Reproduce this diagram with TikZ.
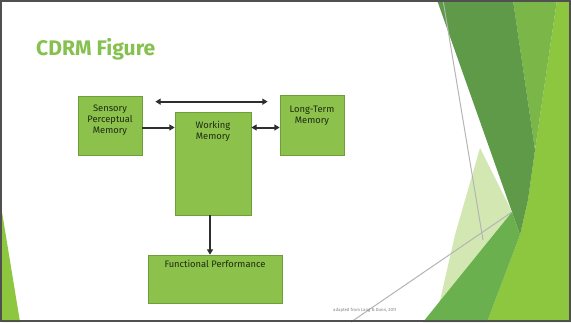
\documentclass[tikz,border=0pt]{standalone}
\usepackage{fontspec}
\setmainfont{Fira Sans}
\usetikzlibrary{arrows.meta,calc,positioning}
\definecolor{boxgreen}{HTML}{8CC24B}
\definecolor{boxedge}{HTML}{6E9E3A}
\definecolor{boxink}{HTML}{1E2A12}
\definecolor{titlegreen}{HTML}{86C04E}
\definecolor{arrowink}{HTML}{2E2E2E}
\definecolor{framegray}{HTML}{505050}
\definecolor{limegreen}{HTML}{8DC63F}
\definecolor{midgreen}{HTML}{7AB648}
\definecolor{deepgreen}{HTML}{5E9A48}
\definecolor{lowgreen}{HTML}{6AB04E}
\definecolor{palegreen}{HTML}{D3E7B2}
\definecolor{rulegray}{HTML}{B4B4B4}

\begin{document}
\begin{tikzpicture}[x=0.03cm,y=-0.03cm,
	headtip/.tip={Triangle[length=0.16cm,width=0.18cm]},
	memorybox/.style={draw=boxedge,fill=boxgreen,line width=0.02cm,inner sep=0pt},
	boxtext/.style={font=\fontsize{8}{9.5}\selectfont,text=boxink,align=center,inner sep=0pt},
	link/.style={draw=arrowink,line width=0.06cm,-headtip},
	twoway/.style={link,headtip-headtip}]
\useasboundingbox (0,0) rectangle (571,322);
\begin{scope}
\clip (0,0) rectangle (571,322);
% Drawing background
\fill[white] (0,0) rectangle (571,322);

% Drawing ornaments on the right
\fill[limegreen] (557,0) -- (571,0) -- (571,322) -- (487,322) -- (520,235) -- (528,200) -- (535,150) -- cycle;
\fill[midgreen] (513,0) -- (557,0) -- (535,150) -- cycle;
\fill[deepgreen] (437,0) -- (513,0) -- (535,150) -- (528,200) -- (520,235) -- (512,212) -- cycle;
\fill[palegreen] (480,148) -- (512,212) -- (436,318) -- (455,235) -- cycle;
\fill[lowgreen] (423,322) -- (512,212) -- (520,235) -- (487,322) -- cycle;
\draw[rulegray,line width=0.03cm] (443,0) -- (483,240);
\draw[rulegray,line width=0.03cm] (351,322) -- (512,212);

% Drawing ornament on the left
\fill[limegreen] (2,212) -- (2,322) -- (20,322) -- cycle;
\end{scope}

% Drawing frame
\draw[framegray,line width=0.06cm] (1,1) rectangle (570,321);

% Marking title
\node[anchor=base west,inner sep=0pt,font=\fontsize{18}{21}\selectfont\bfseries,text=titlegreen] (title) at (36,55) {CDRM Figure};

% Drawing boxes
\node[memorybox,minimum width=1.92cm,minimum height=1.77cm] (sensory) at (110,125.5) {};
\node[memorybox,minimum width=2.28cm,minimum height=3.09cm] (working) at (213,163.5) {};
\node[memorybox,minimum width=1.92cm,minimum height=1.8cm] (longterm) at (312,125) {};
\node[memorybox,minimum width=4.02cm,minimum height=1.44cm] (functional) at (215,279) {};

% Marking box texts
\node[boxtext,below=0.26cm of sensory.north] (sensorytext) {Sensory\\Perceptual\\Memory};
\node[boxtext,below=0.27cm of working.north] (workingtext) {Working\\Memory};
\node[boxtext,below=0.32cm of longterm.north] (longtermtext) {Long-Term\\Memory};
\node[boxtext,below=0.15cm of functional.north] (functionaltext) {Functional Performance};

% Drawing arrows
\draw[twoway] ($(sensory.north east)+(13,6)$) -- ($(longterm.north west)+(-12,7)$);
\draw[link] (sensory.east |- 0,127.5) -- (working.west |- 0,127.5);
\draw[twoway] (working.east |- 0,127.5) -- (longterm.west |- 0,127.5);
\draw[link] (working.south -| 210,0) -- (functional.north -| 210,0);

% Marking source
\node[anchor=base west,inner sep=0pt,font=\fontsize{3.7}{4}\selectfont,text=gray] (source) at (333,311) {adapted from Lang \& Dunn, 2011};
\end{tikzpicture}
\end{document}
